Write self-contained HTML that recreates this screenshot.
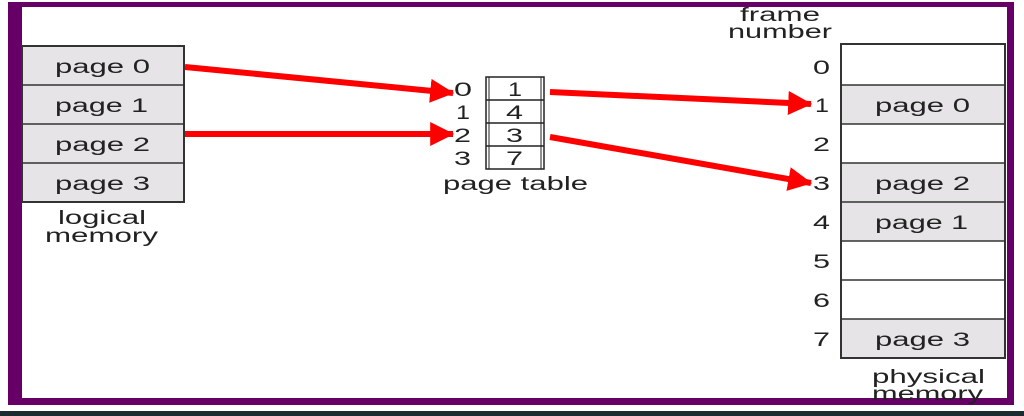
<!DOCTYPE html>
<html><head><meta charset="utf-8"><style>
html,body{margin:0;padding:0;background:#fff;}
svg{display:block;font-family:"Liberation Sans",sans-serif;}
</style></head><body>
<svg width="1024" height="416" viewBox="0 0 1024 416">
<defs>
<marker id="ah" markerWidth="4" markerHeight="4" refX="3.8" refY="2" orient="auto" markerUnits="strokeWidth">
<path d="M0,0 L4,2 L0,4 z" fill="#ff0000"/>
</marker>
</defs>
<rect x="0" y="0" width="1024" height="416" fill="#fff"/>
<rect x="8" y="2" width="1006" height="403" fill="#660066"/>
<rect x="22" y="7" width="985" height="391" fill="#fff"/>
<rect x="0" y="411" width="1024" height="5" fill="#1a2a2e"/>

<g font-size="19" fill="#222">
<rect x="22" y="46" width="162" height="156" fill="#e6e4e6" stroke="#333" stroke-width="2"/>
<line x1="22" y1="85" x2="184" y2="85" stroke="#333" stroke-width="1.5"/>
<line x1="22" y1="124" x2="184" y2="124" stroke="#333" stroke-width="1.5"/>
<line x1="22" y1="163" x2="184" y2="163" stroke="#333" stroke-width="1.5"/>
<text x="55" y="73" textLength="95" lengthAdjust="spacingAndGlyphs">page 0</text>
<text x="55" y="112" textLength="93" lengthAdjust="spacingAndGlyphs">page 1</text>
<text x="55" y="151" textLength="95" lengthAdjust="spacingAndGlyphs">page 2</text>
<text x="55" y="190" textLength="95" lengthAdjust="spacingAndGlyphs">page 3</text>
<text x="58" y="224" textLength="88" lengthAdjust="spacingAndGlyphs">logical</text>
<text x="45" y="242" textLength="113" lengthAdjust="spacingAndGlyphs">memory</text>
</g>

<g font-size="19" fill="#222">
<rect x="486" y="77" width="58" height="92" fill="#fff" stroke="#222" stroke-width="1.5"/>
<rect x="489" y="77" width="52" height="92" fill="none" stroke="#222" stroke-width="1"/>
<line x1="486" y1="100" x2="544" y2="100" stroke="#222" stroke-width="1.5"/>
<line x1="486" y1="123" x2="544" y2="123" stroke="#222" stroke-width="1.5"/>
<line x1="486" y1="146" x2="544" y2="146" stroke="#222" stroke-width="1.5"/>
<text x="508" y="96" textLength="14" lengthAdjust="spacingAndGlyphs">1</text>
<text x="506" y="119" textLength="17" lengthAdjust="spacingAndGlyphs">4</text>
<text x="506" y="142" textLength="17" lengthAdjust="spacingAndGlyphs">3</text>
<text x="506" y="165" textLength="17" lengthAdjust="spacingAndGlyphs">7</text>
<text x="454" y="96" textLength="18" lengthAdjust="spacingAndGlyphs">0</text>
<text x="456" y="119" textLength="14" lengthAdjust="spacingAndGlyphs">1</text>
<text x="454" y="142" textLength="17" lengthAdjust="spacingAndGlyphs">2</text>
<text x="454" y="165" textLength="17" lengthAdjust="spacingAndGlyphs">3</text>
<text x="443" y="190" textLength="145" lengthAdjust="spacingAndGlyphs">page table</text>
</g>

<g font-size="19" fill="#222">
<rect x="841" y="44" width="164" height="314" fill="#fff"/>
<rect x="841" y="85" width="164" height="39" fill="#e6e4e6"/>
<rect x="841" y="163" width="164" height="78" fill="#e6e4e6"/>
<rect x="841" y="319" width="164" height="39" fill="#e6e4e6"/>
<rect x="841" y="44" width="164" height="314" fill="none" stroke="#333" stroke-width="2"/>
<line x1="841" y1="85" x2="1005" y2="85" stroke="#333" stroke-width="1.5"/>
<line x1="841" y1="124" x2="1005" y2="124" stroke="#333" stroke-width="1.5"/>
<line x1="841" y1="163" x2="1005" y2="163" stroke="#333" stroke-width="1.5"/>
<line x1="841" y1="202" x2="1005" y2="202" stroke="#333" stroke-width="1.5"/>
<line x1="841" y1="241" x2="1005" y2="241" stroke="#333" stroke-width="1.5"/>
<line x1="841" y1="280" x2="1005" y2="280" stroke="#333" stroke-width="1.5"/>
<line x1="841" y1="319" x2="1005" y2="319" stroke="#333" stroke-width="1.5"/>
<text x="875" y="112" textLength="95" lengthAdjust="spacingAndGlyphs">page 0</text>
<text x="875" y="190" textLength="95" lengthAdjust="spacingAndGlyphs">page 2</text>
<text x="875" y="229" textLength="93" lengthAdjust="spacingAndGlyphs">page 1</text>
<text x="875" y="346" textLength="95" lengthAdjust="spacingAndGlyphs">page 3</text>
<g>
<text x="813" y="74" textLength="17" lengthAdjust="spacingAndGlyphs">0</text>
<text x="815" y="112" textLength="14" lengthAdjust="spacingAndGlyphs">1</text>
<text x="813" y="151" textLength="17" lengthAdjust="spacingAndGlyphs">2</text>
<text x="813" y="190" textLength="17" lengthAdjust="spacingAndGlyphs">3</text>
<text x="813" y="229" textLength="17" lengthAdjust="spacingAndGlyphs">4</text>
<text x="813" y="268" textLength="17" lengthAdjust="spacingAndGlyphs">5</text>
<text x="813" y="307" textLength="17" lengthAdjust="spacingAndGlyphs">6</text>
<text x="813" y="346" textLength="17" lengthAdjust="spacingAndGlyphs">7</text>
</g>
<text x="740" y="21" textLength="80" lengthAdjust="spacingAndGlyphs">frame</text>
<text x="728" y="38" textLength="104" lengthAdjust="spacingAndGlyphs">number</text>
<text x="872" y="383" textLength="113" lengthAdjust="spacingAndGlyphs">physical</text>
<text x="872" y="400" textLength="111" lengthAdjust="spacingAndGlyphs">memory</text>
</g>

<g stroke="#ff0000" stroke-width="6" fill="none">
<line x1="185" y1="67" x2="453" y2="93" marker-end="url(#ah)"/>
<line x1="185" y1="134" x2="453" y2="134" marker-end="url(#ah)"/>
<line x1="550" y1="92" x2="811" y2="104" marker-end="url(#ah)"/>
<line x1="550" y1="137" x2="811" y2="183" marker-end="url(#ah)"/>
</g>
</svg>
</body></html>
